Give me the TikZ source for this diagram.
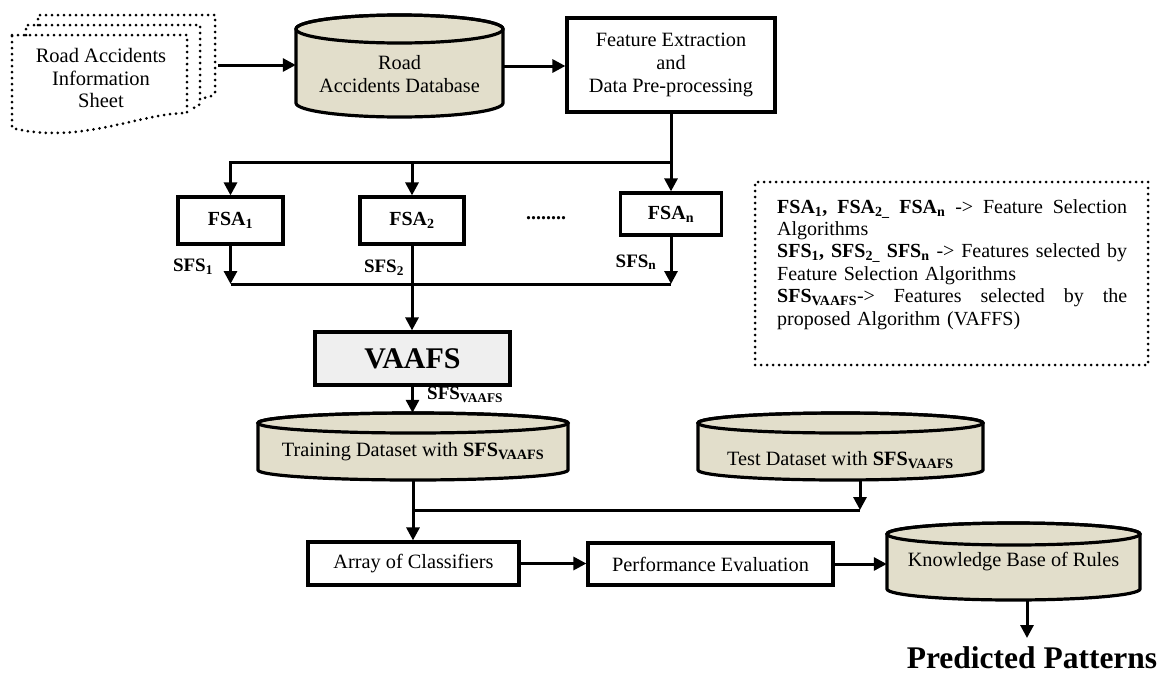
\documentclass[tikz,border=0pt]{standalone}
\usepackage{fontspec}
\setmainfont{Liberation Serif}
\usetikzlibrary{arrows.meta,fit,calc}
\definecolor{cylfill}{HTML}{E2DECB}
\definecolor{vfill}{HTML}{EFEFEF}
\tikzset{
 box/.style={draw, line width=3.2pt, fill=white, inner sep=0pt, align=center, font=\fontsize{20.3}{23}\selectfont},
 cylline/.style={draw, line width=3.2pt, fill=cylfill},
 arr/.style={line width=3pt, -{Triangle[length=13pt,width=13pt]}},
 conn/.style={line width=3pt},
 dotline/.style={line width=3pt, dash pattern=on 0pt off 6pt, line cap=round},
 lbl/.style={font=\fontsize{19}{21}\selectfont\bfseries, inner sep=0pt},
}
\newcommand\mycyl[8]{%
 \pgfmathsetmacro\mycx{(#2+#3)/2}%
 \pgfmathsetmacro\myrx{(#3-#2)/2}%
 \pgfmathsetmacro\myyt{-(#4+#6)}%
 \pgfmathsetmacro\myyb{-(#5-#6)}%
 \path[cylline] (#2,\myyt) -- (#2,\myyb) arc[start angle=180,end angle=360,x radius=\myrx pt,y radius=#6pt] -- (#3,\myyt) arc[start angle=0,end angle=180,x radius=\myrx pt,y radius=#6pt] -- cycle;
 \draw[line width=3.2pt] (\mycx,\myyt) ellipse[x radius=\myrx pt,y radius=#6pt];
 \node[fit={(#2,-#4)(#3,-#5)}, inner sep=0pt] (#1) {};
 \node[font=\fontsize{20.3}{23}\selectfont, align=center, inner sep=0pt] (#1t) at (\mycx,-#7) {#8};
}
\newcommand\fullline[1]{\leavevmode\hbox to 350pt{#1}}
\begin{document}
\begin{tikzpicture}[x=1pt,y=1pt]
\useasboundingbox (0,0) rectangle (1158,-675);

% information sheet (stacked documents)
\draw[dotline] (38,-25) -- (38,-15) -- (215,-15) -- (215,-92) .. controls (213,-96) .. (204,-98);
\draw[dotline] (26,-35) -- (26,-25) -- (200,-25) -- (200,-103) .. controls (198,-107) .. (189,-109);
\draw[dotline] (12,-35) -- (187,-35) -- (187,-113) .. controls (140,-113) and (80,-145) .. (12,-128) -- cycle;
\node[font=\fontsize{20.5}{22.5}\selectfont, align=center, inner sep=0pt] (info) at (101,-78) {Road Accidents\\Information\\Sheet};
\coordinate (infoR) at (218,-65);

\mycyl{db}{296}{503}{15}{117}{14}{74}{Road\\Accidents Database}
\node[box, minimum width=208pt, minimum height=94pt] (fe) at (671,-65) {Feature Extraction\\and\\Data Pre-processing};

\draw[arr] (infoR) -- (infoR -| db.west);
\draw[arr] (db.east) -- (db.east -| fe.west);

% FSA boxes
\coordinate (j1) at (671,-162);
\node[box, font=\fontsize{20}{22}\selectfont\bfseries, minimum width=105pt, minimum height=47pt] (fsa1) at (230.5,-220.5) {FSA\textsubscript{1}};
\node[box, font=\fontsize{20}{22}\selectfont\bfseries, minimum width=104pt, minimum height=47pt] (fsa2) at (412,-220.5) {FSA\textsubscript{2}};
\node[box, font=\fontsize{20}{22}\selectfont\bfseries, minimum width=101pt, minimum height=42pt] (fsan) at (671,-214) {FSA\textsubscript{n}};
\node[font=\fontsize{20}{22}\selectfont\bfseries, inner sep=0pt] (dots) at (546,-218) {........};

\draw[conn] (fe.south) -- (j1);
\draw[arr] (j1) -| (fsa1.north);
\draw[arr] (j1 -| fsa2.north) -- (fsa2.north);
\draw[arr] (j1) -- (fsan.north);

\coordinate (j2) at (412,-284);
\draw[arr] (fsa1.south) -- (fsa1.south |- j2);
\draw[arr] (fsan.south) -- (fsan.south |- j2);
\draw[conn] (fsa1.south |- j2) -- (fsan.south |- j2);

\node[lbl] (sfs1) at (193,-267) {SFS\textsubscript{1}};
\node[lbl] (sfs2) at (384,-268) {SFS\textsubscript{2}};
\node[lbl] (sfsn) at (636,-262) {SFS\textsubscript{n}};

\node[box, fill=vfill, minimum width=195pt, minimum height=53pt, font=\fontsize{30}{32}\selectfont\bfseries] (vaafs) at (412.5,-358.5) {VAAFS};
\draw[arr] (fsa2.south) -- (fsa2.south |- vaafs.north);

\mycyl{train}{258}{568}{413}{480}{10}{452}{Training Dataset with \textbf{SFS\textsubscript{VAAFS}}}
\mycyl{test}{698}{983}{413}{480}{10}{460}{Test Dataset with \textbf{SFS\textsubscript{VAAFS}}}

\draw[arr] (vaafs.south) -- (vaafs.south |- train.north);
\node[lbl, anchor=west] (sfsv) at (427,-395) {SFS\textsubscript{VAAFS}};

\coordinate (j3) at (860,-510);
\node[box, minimum width=211pt, minimum height=43pt] (array) at (413.5,-563.5) {Array of Classifiers};
\draw[arr] (train.south) -- (train.south |- array.north);
\draw[conn] (train.south |- j3) -- (j3);
\draw[arr] (test.south -| j3) -- (j3);

\node[box, minimum width=245pt, minimum height=42pt] (perf) at (710.5,-564) {Performance Evaluation};
\draw[arr] (array.east) -- (array.east -| perf.west);
\mycyl{kb}{887}{1140}{523}{600}{11}{562}{Knowledge Base of Rules}
\draw[arr] (perf.east) -- (perf.east -| kb.west);

\node[font=\fontsize{31.5}{33}\selectfont\bfseries, inner sep=0pt] (pp) at (1032,-658) {Predicted Patterns};
\coordinate (kbo) at (1027,-600);
\coordinate (ppin) at (1027,-638);
\draw[arr] (kbo) -- (ppin);

% legend
\node[dotline, draw, minimum width=393pt, minimum height=183pt] (legend) at (951.5,-273.5) {};
\node[anchor=north west, text width=350pt, inner sep=0pt, font=\fontsize{20}{22.4}\selectfont, align=left] (legtext) at (777,-199) {%
\fullline{\textbf{FSA\textsubscript{1},}\hfill\textbf{FSA\textsubscript{2\_}}\hfill\textbf{FSA\textsubscript{n}}\hfill->\hfill Feature\hfill Selection}\\
Algorithms\\
\fullline{\textbf{SFS\textsubscript{1},}\hfill\textbf{SFS\textsubscript{2\_}}\hfill\textbf{SFS\textsubscript{n}}\hfill->\hfill Features\hfill selected\hfill by}\\
Feature Selection Algorithms\\
\fullline{\textbf{SFS\textsubscript{VAAFS}}->\hfill Features\hfill selected\hfill by\hfill the}\\
proposed Algorithm (VAFFS)};
\end{tikzpicture}
\end{document}
